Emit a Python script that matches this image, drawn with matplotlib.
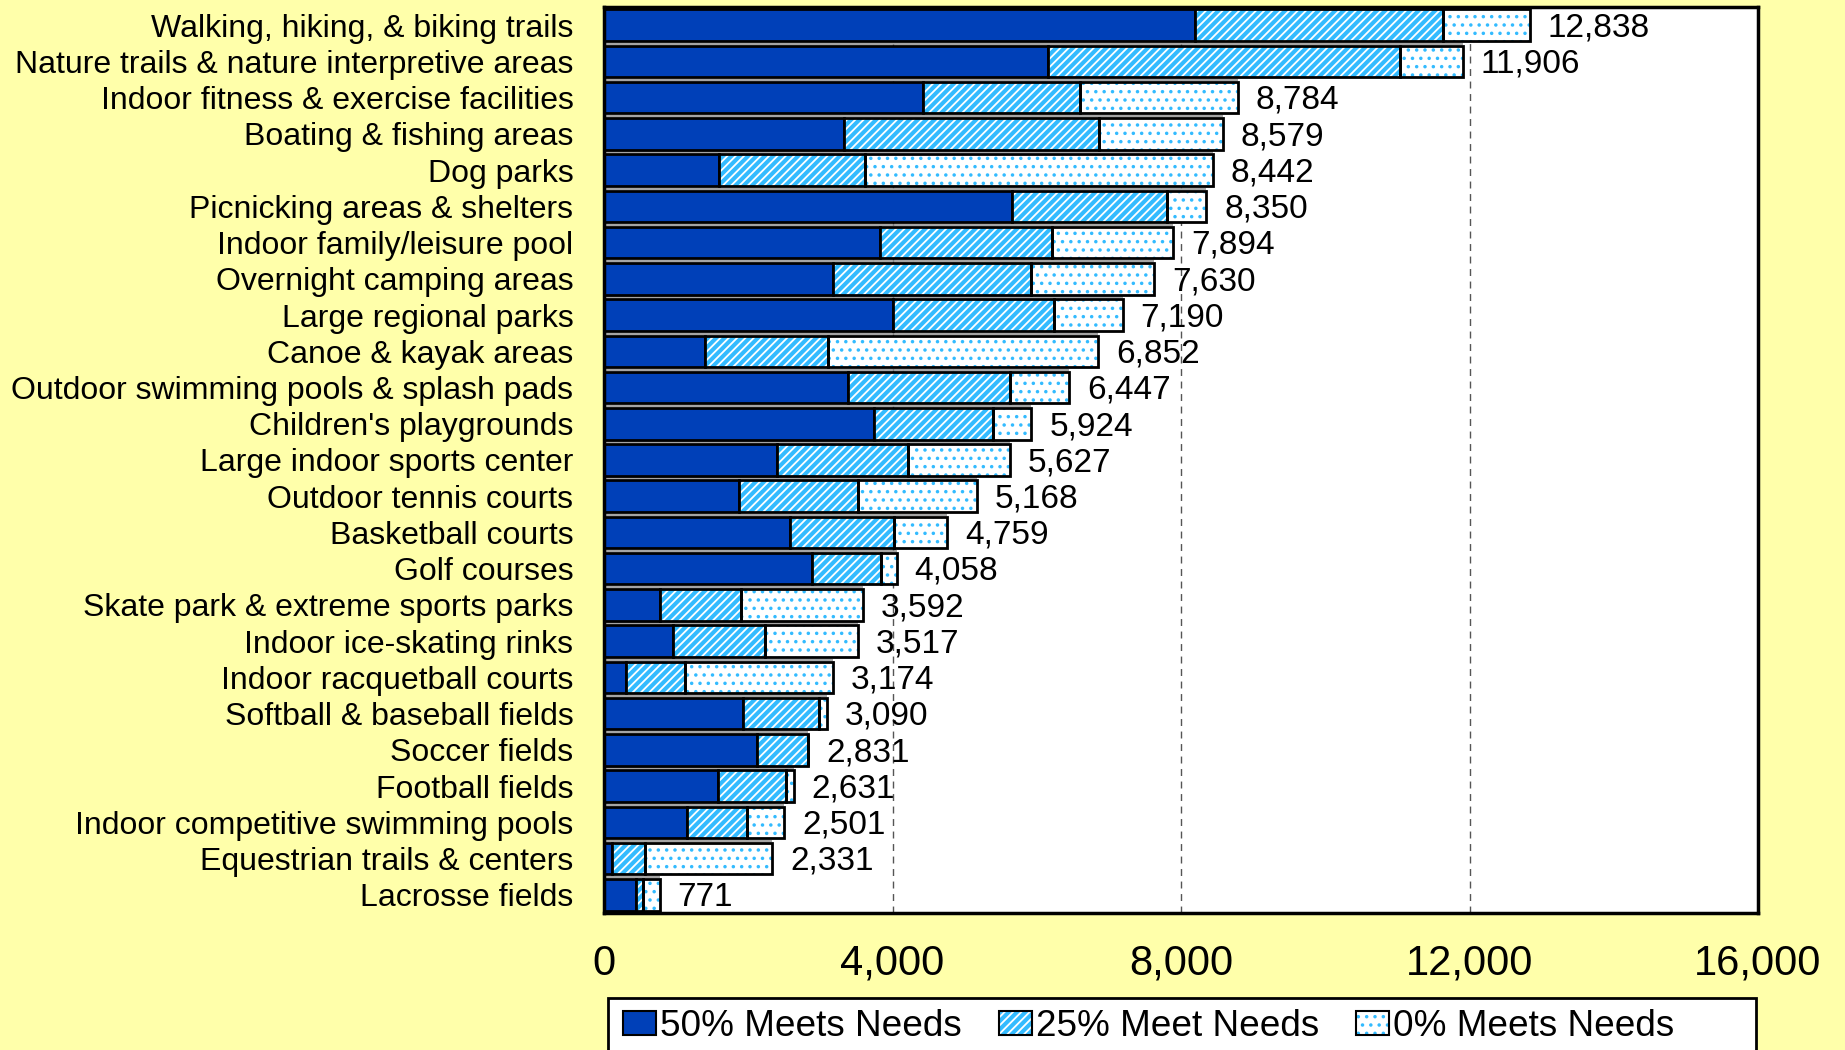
import matplotlib
matplotlib.use("Agg")
import matplotlib.pyplot as plt
from matplotlib.patches import Patch, Rectangle

categories = [
    "Walking, hiking, & biking trails",
    "Nature trails & nature interpretive areas",
    "Indoor fitness & exercise facilities",
    "Boating & fishing areas",
    "Dog parks",
    "Picnicking areas & shelters",
    "Indoor family/leisure pool",
    "Overnight camping areas",
    "Large regional parks",
    "Canoe & kayak areas",
    "Outdoor swimming pools & splash pads",
    "Children's playgrounds",
    "Large indoor sports center",
    "Outdoor tennis courts",
    "Basketball courts",
    "Golf courses",
    "Skate park & extreme sports parks",
    "Indoor ice-skating rinks",
    "Indoor racquetball courts",
    "Softball & baseball fields",
    "Soccer fields",
    "Football fields",
    "Indoor competitive swimming pools",
    "Equestrian trails & centers",
    "Lacrosse fields",
]
meets50 = [8190, 6150, 4425, 3325, 1600, 5660, 3830, 3170, 4010, 1400, 3380, 3740, 2405,
           1875, 2575, 2885, 780, 960, 305, 1930, 2125, 1580, 1145, 105, 445]
meets25 = [3440, 4890, 2170, 3535, 2015, 2140, 2385, 2755, 2225, 1700, 2250, 1655, 1815,
           1640, 1450, 955, 1125, 1270, 820, 1050, 706, 950, 840, 470, 95]
meets0 = [1208, 866, 2189, 1719, 4827, 550, 1679, 1705, 955, 3752, 817, 529, 1407,
          1653, 734, 218, 1687, 1287, 2049, 110, 0, 101, 516, 1756, 231]
totals = [12838, 11906, 8784, 8579, 8442, 8350, 7894, 7630, 7190, 6852, 6447, 5924, 5627,
          5168, 4759, 4058, 3592, 3517, 3174, 3090, 2831, 2631, 2501, 2331, 771]
xticks = [0, 4000, 8000, 12000, 16000]
legend_labels = ["50% Meets Needs", "25% Meet Needs", "0% Meets Needs"]

DARK = "#0040B8"
LIGHT = "#33BBFF"
BG = "#FFFFAA"

plt.rcParams["font.family"] = ["Liberation Sans", "DejaVu Sans"]
plt.rcParams["hatch.linewidth"] = 1.3

fig = plt.figure(figsize=(18.45, 10.5), dpi=100, facecolor=BG)
ax = fig.add_axes([604 / 1845, 137 / 1050, 1154 / 1845, 906 / 1050])
ax.set_facecolor("white")

n = len(categories)
y = list(range(n))
h = 0.87
left25 = meets50
left0 = [a + b for a, b in zip(meets50, meets25)]

# faint highlight line above each bar
ax.hlines([yi - 0.49 for yi in y], 0, totals, colors="#8a8a8a", linewidth=1.1, zorder=2)

ax.barh(y, meets50, height=h, color=DARK, edgecolor="black", linewidth=2, zorder=3)
ax.barh(y, meets25, left=left25, height=h, facecolor=LIGHT, edgecolor="white",
        hatch="////", linewidth=0, zorder=3)
ax.barh(y, meets25, left=left25, height=h, facecolor="none", edgecolor="black",
        linewidth=2, zorder=4)
ax.barh(y, meets0, left=left0, height=h, facecolor="white", edgecolor=LIGHT,
        hatch="..", linewidth=0, zorder=3)
ax.barh(y, meets0, left=left0, height=h, facecolor="none", edgecolor="black",
        linewidth=2, zorder=4)

for yi, t in zip(y, totals):
    ax.annotate(f"{t:,}", xy=(t, yi), xytext=(13, -2), textcoords="offset points",
                va="center", ha="left", fontsize=24, zorder=5)

ax.set_xlim(0, 16000)
ax.set_ylim(n - 0.5, -0.5)
ax.set_yticks(y)
ax.set_yticklabels(categories)
ax.set_xticks(xticks)
ax.set_xticklabels([f"{v:,}" for v in xticks])
ax.tick_params(axis="y", length=0, pad=22, labelsize=23)
ax.tick_params(axis="x", length=0, pad=22, labelsize=30)
ax.set_axisbelow(True)
ax.xaxis.grid(True, linestyle=(0, (5, 4)), color="#555555", linewidth=1.0, zorder=0)
for sp in ax.spines.values():
    sp.set_linewidth(2.5)
    sp.set_color("black")
    sp.set_zorder(6)

# legend frame (wider than its content)
frame = Rectangle((608 / 1845, -0.05), 1148 / 1845, 0.05 + (1050 - 998) / 1050,
                  transform=fig.transFigure, facecolor="white", edgecolor="black",
                  linewidth=2, zorder=1)
fig.patches.append(frame)

h50 = Patch(facecolor=DARK, edgecolor="black", linewidth=1.5)
h25 = (Patch(facecolor=LIGHT, edgecolor="white", hatch="////", linewidth=0),
       Patch(facecolor="none", edgecolor="black", linewidth=1.5))
h0 = (Patch(facecolor="white", edgecolor=LIGHT, hatch="..", linewidth=0),
      Patch(facecolor="none", edgecolor="black", linewidth=1.5))
leg = fig.legend([h50, h25, h0], legend_labels, ncol=3, loc="upper left",
                 bbox_to_anchor=(614 / 1845, 1 - 1000 / 1050),
                 borderaxespad=0, fontsize=26.6, handlelength=0.9,
                 handleheight=0.6, handletextpad=0.1, borderpad=0.25,
                 columnspacing=1.0, frameon=False)
leg.set_zorder(2)

fig.savefig("out.png", dpi=100, facecolor=BG)
